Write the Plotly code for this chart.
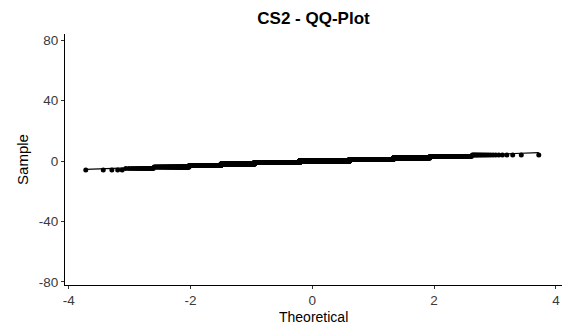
import numpy as np
from statistics import NormalDist
import plotly.graph_objects as go

# Sample values (discrete levels) and how many observations sit at each level,
# read from the step widths in the reference QQ plot.
sample_levels = [-6, -5, -4, -3, -2, -1, 0, 1, 2, 3, 4]
level_counts = [5, 18, 85, 226, 521, 1229, 1562, 895, 325, 112, 22]

x_ticks = [-4, -2, 0, 2, 4]
y_ticks = [-80, -40, 0, 40, 80]

title_text = "CS2 - QQ-Plot"
x_title = "Theoretical"
y_title = "Sample"

# Build the sorted sample and compute theoretical normal quantiles (QQ transform)
sample = np.repeat(np.array(sample_levels, dtype=float), level_counts)
sample.sort()
n = len(sample)
a = 3 / 8 if n <= 10 else 0.5
probs = (np.arange(1, n + 1) - a) / (n + 1 - 2 * a)
nd = NormalDist()
theoretical = np.array([nd.inv_cdf(p) for p in probs])

# QQ line through the first and third quartiles
q_s = np.quantile(sample, [0.25, 0.75])
q_t = np.array([nd.inv_cdf(0.25), nd.inv_cdf(0.75)])
slope = (q_s[1] - q_s[0]) / (q_t[1] - q_t[0])
intercept = q_s[0] - slope * q_t[0]
line_x = np.array([theoretical.min(), theoretical.max()])
line_y = intercept + slope * line_x

fig = go.Figure()
fig.add_trace(go.Scatter(
    x=theoretical, y=sample, mode="markers",
    marker=dict(color="black", size=5, line=dict(width=0)),
    showlegend=False, hoverinfo="skip",
))
fig.add_trace(go.Scatter(
    x=line_x, y=line_y, mode="lines",
    line=dict(color="black", width=1.1),
    showlegend=False, hoverinfo="skip",
))

font_family = "Liberation Sans, Arial, Helvetica, sans-serif"
axis_common = dict(
    showgrid=False, zeroline=False, showline=True, linecolor="black", linewidth=1,
    ticks="outside", ticklen=3, tickwidth=1, tickcolor="#333333",
    tickfont=dict(family=font_family, size=13.5, color="#3a3a3a"),
    mirror=False,
)

H = 325
top, bottom = 34, 40
plot_h = H - top - bottom

fig.update_layout(
    width=564, height=H,
    margin=dict(l=65, r=2, t=top, b=bottom),
    paper_bgcolor="white", plot_bgcolor="white",
    font=dict(family=font_family, color="black"),
    title=dict(
        text="<b>" + title_text + "</b>",
        x=0.5, xref="paper", xanchor="center",
        y=1 - 18 / H, yref="container", yanchor="middle",
        font=dict(family=font_family, size=17, color="black"),
    ),
    xaxis=dict(
        range=[-4.06, 4.1], tickvals=x_ticks, ticktext=[str(v) for v in x_ticks],
        ticklabelstandoff=0, automargin=False,
        **axis_common,
    ),
    yaxis=dict(
        range=[-82, 84], tickvals=y_ticks, ticktext=[str(v) for v in y_ticks],
        title=dict(text=y_title, font=dict(family=font_family, size=15, color="black"), standoff=6),
        **axis_common,
    ),
    annotations=[dict(
        text=x_title, showarrow=False,
        xref="paper", x=0.5, xanchor="center",
        yref="paper", y=-(317 - (H - bottom)) / plot_h, yanchor="middle",
        font=dict(family=font_family, size=14, color="black"),
        borderpad=0,
    )],
)

fig.write_html("out.html")
